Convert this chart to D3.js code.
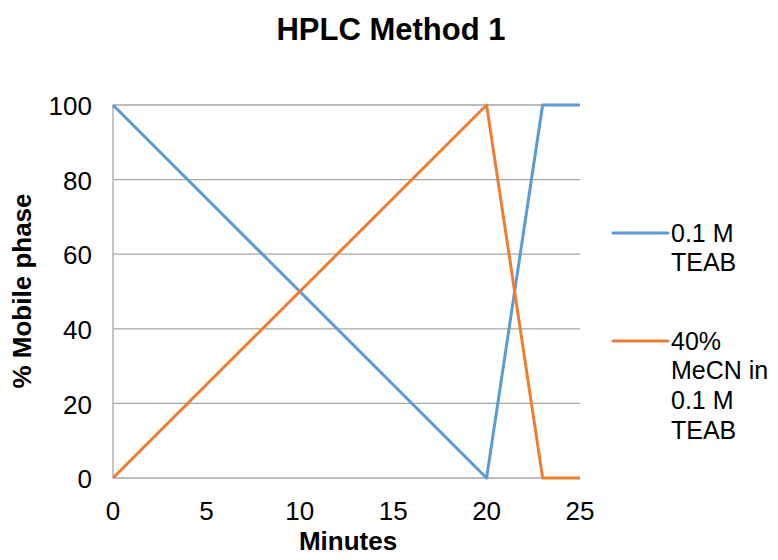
<!DOCTYPE html>
<html>
<head>
<meta charset="utf-8">
<script src="https://cdn.jsdelivr.net/npm/d3@7"></script>
<style>
  body { margin: 0; background: #fff; }
  svg text { font-family: "Liberation Sans", Arial, sans-serif; fill: #000; }
</style>
</head>
<body>
<svg id="chart" width="778" height="560"></svg>
<script>
// Gradient programme: time (min) vs % of each mobile phase
const minutes = [0, 20, 23, 25];
const teab = [100, 0, 100, 100];
const mecn = [0, 100, 0, 0];
const xTicks = [0, 5, 10, 15, 20, 25];
const yTicks = [0, 20, 40, 60, 80, 100];
const seriesNames = [["0.1 M", "TEAB"], ["40%", "MeCN in", "0.1 M", "TEAB"]];
const colors = ["#5B9BD5", "#ED7D31"];

const svg = d3.select("#chart");
const x = d3.scaleLinear().domain([0, 25]).range([113, 580]);
const y = d3.scaleLinear().domain([0, 100]).range([478, 105]);

// horizontal gridlines
svg.append("g").selectAll("line").data(yTicks.filter(d => d > 0)).join("line")
  .attr("x1", x(0)).attr("x2", x(25))
  .attr("y1", d => y(d)).attr("y2", d => y(d))
  .attr("stroke", "#A6A6A6").attr("stroke-width", 1.3);

// axis lines
svg.append("line").attr("x1", x(0)).attr("x2", x(25)).attr("y1", y(0)).attr("y2", y(0))
  .attr("stroke", "#A6A6A6").attr("stroke-width", 1.3);
svg.append("line").attr("x1", x(0)).attr("x2", x(0)).attr("y1", y(0)).attr("y2", y(100))
  .attr("stroke", "#A6A6A6").attr("stroke-width", 1.3);

// tick labels
svg.append("g").selectAll("text").data(yTicks).join("text")
  .attr("x", 92).attr("y", d => y(d) + 1).attr("dy", "0.35em")
  .attr("text-anchor", "end").attr("font-size", 26).text(d => d);
svg.append("g").selectAll("text").data(xTicks).join("text")
  .attr("x", d => x(d)).attr("y", 511).attr("dy", "0.35em")
  .attr("text-anchor", "middle").attr("font-size", 26).text(d => d);

// series lines
const line = d3.line().x((d, i) => x(minutes[i])).y(d => y(d));
[teab, mecn].forEach((vals, k) => {
  svg.append("path").datum(vals).attr("d", line)
    .attr("fill", "none").attr("stroke", colors[k])
    .attr("stroke-width", 3).attr("stroke-linejoin", "round");
});

// titles
svg.append("text").attr("x", 391).attr("y", 29).attr("dy", "0.35em")
  .attr("text-anchor", "middle").attr("font-size", 31).attr("font-weight", "bold")
  .text("HPLC Method 1");
svg.append("text").attr("x", 348).attr("y", 541).attr("dy", "0.35em")
  .attr("text-anchor", "middle").attr("font-size", 26).attr("font-weight", "bold")
  .text("Minutes");
svg.append("text").attr("transform", "translate(22,291) rotate(-90)").attr("dy", "0.35em")
  .attr("text-anchor", "middle").attr("font-size", 26).attr("font-weight", "bold")
  .text("% Mobile phase");

// legend
const legendY = [233, 341];
seriesNames.forEach((lines, k) => {
  const g = svg.append("g");
  g.append("line").attr("x1", 613).attr("x2", 668)
    .attr("y1", legendY[k]).attr("y2", legendY[k])
    .attr("stroke", colors[k]).attr("stroke-width", 3).attr("stroke-linecap", "round");
  g.selectAll("text").data(lines).join("text")
    .attr("x", 671).attr("y", (d, i) => legendY[k] + i * 29.7).attr("dy", "0.35em")
    .attr("font-size", 25).text(d => d);
});
</script>
</body>
</html>
